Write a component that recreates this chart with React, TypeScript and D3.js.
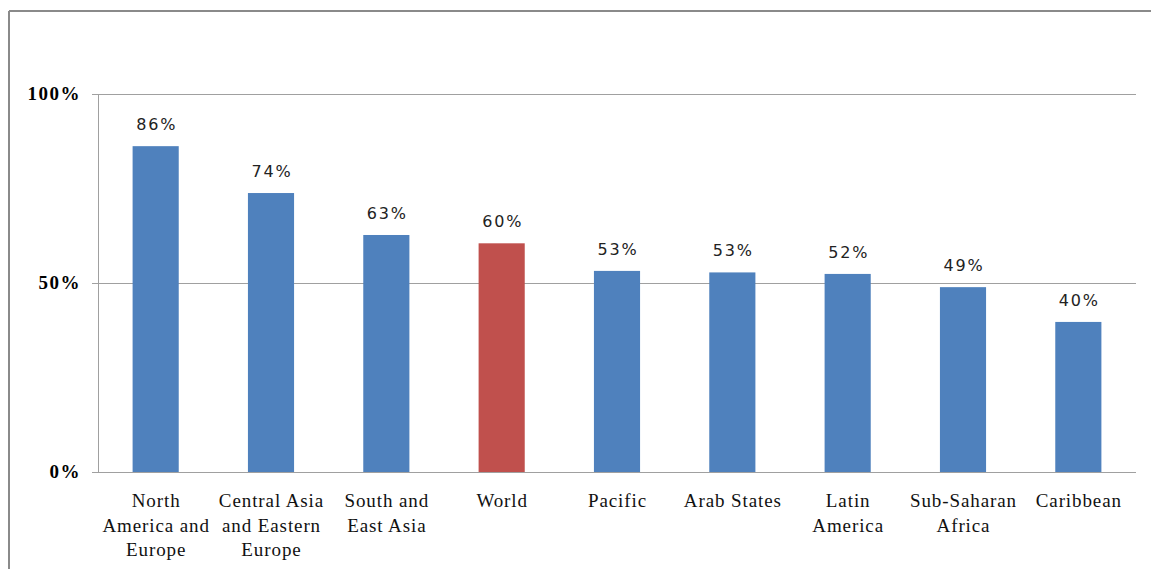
import { scaleBand, scaleLinear } from "d3";

const categories = [
  ["North", "America and", "Europe"],
  ["Central Asia", "and Eastern", "Europe"],
  ["South and", "East Asia"],
  ["World"],
  ["Pacific"],
  ["Arab States"],
  ["Latin", "America"],
  ["Sub-Saharan", "Africa"],
  ["Caribbean"],
];
const values = [86.2, 73.8, 62.7, 60.5, 53.2, 52.8, 52.4, 48.9, 39.7];
const valueLabels = ["86%", "74%", "63%", "60%", "53%", "53%", "52%", "49%", "40%"];
const highlight = [false, false, false, true, false, false, false, false, false];
const yTicks = [0, 50, 100];

export default function App() {
  const width = 1151;
  const height = 569;
  const left = 98;
  const right = 1136;
  const top = 94;
  const bottom = 472;

  const x = scaleBand<number>()
    .domain(categories.map((_, i) => i))
    .range([left, right])
    .paddingInner(0.6)
    .paddingOuter(0.3);

  const y = scaleLinear().domain([0, 100]).range([bottom, top]);

  return (
    <svg
      width={width}
      height={height}
      style={{ position: "fixed", left: 0, top: 0, background: "#fff" }}
    >
      {/* outer frame, only top and left edges show */}
      <line x1={9} x2={width} y1={11} y2={11} stroke="#8a8a8a" strokeWidth="2" />
      <line x1={9} x2={9} y1={11} y2={height} stroke="#8a8a8a" strokeWidth="2" />

      {yTicks.map((t) => (
        <g key={t}>
          <line x1={left - 6} x2={right} y1={y(t) + 0.5} y2={y(t) + 0.5} stroke="#a0a0a0" strokeWidth="1" />
          <text
            x={81}
            y={y(t) + 6}
            textAnchor="end"
            fontFamily="'Liberation Serif', serif"
            fontWeight="bold"
            fontSize="19"
            letterSpacing="1.5"
            fill="#000"
          >
            {t}%
          </text>
        </g>
      ))}
      <line x1={left + 0.5} x2={left + 0.5} y1={top} y2={bottom} stroke="#a0a0a0" strokeWidth="1" />

      {values.map((v, i) => {
        const bx = x(i) ?? 0;
        const cx = bx + x.bandwidth() / 2;
        return (
          <g key={i}>
            <rect
              x={bx}
              y={y(v)}
              width={x.bandwidth()}
              height={bottom - y(v)}
              fill={highlight[i] ? "#c0504d" : "#4f81bd"}
            />
            <text
              x={cx + 1}
              y={y(v) - 16}
              textAnchor="middle"
              fontFamily="'DejaVu Sans', sans-serif"
              fontSize="16"
              letterSpacing="1.8"
              fill="#222"
            >
              {valueLabels[i]}
            </text>
            {categories[i].map((lineText, j) => (
              <text
                key={j}
                x={cx + 0.5}
                y={507 + j * 24.5}
                textAnchor="middle"
                fontFamily="'Liberation Serif', serif"
                fontSize="19"
                letterSpacing="0.9"
                fill="#111"
              >
                {lineText}
              </text>
            ))}
          </g>
        );
      })}
      <line x1={left} x2={right} y1={bottom + 0.5} y2={bottom + 0.5} stroke="#a0a0a0" strokeWidth="1" />
    </svg>
  );
}
